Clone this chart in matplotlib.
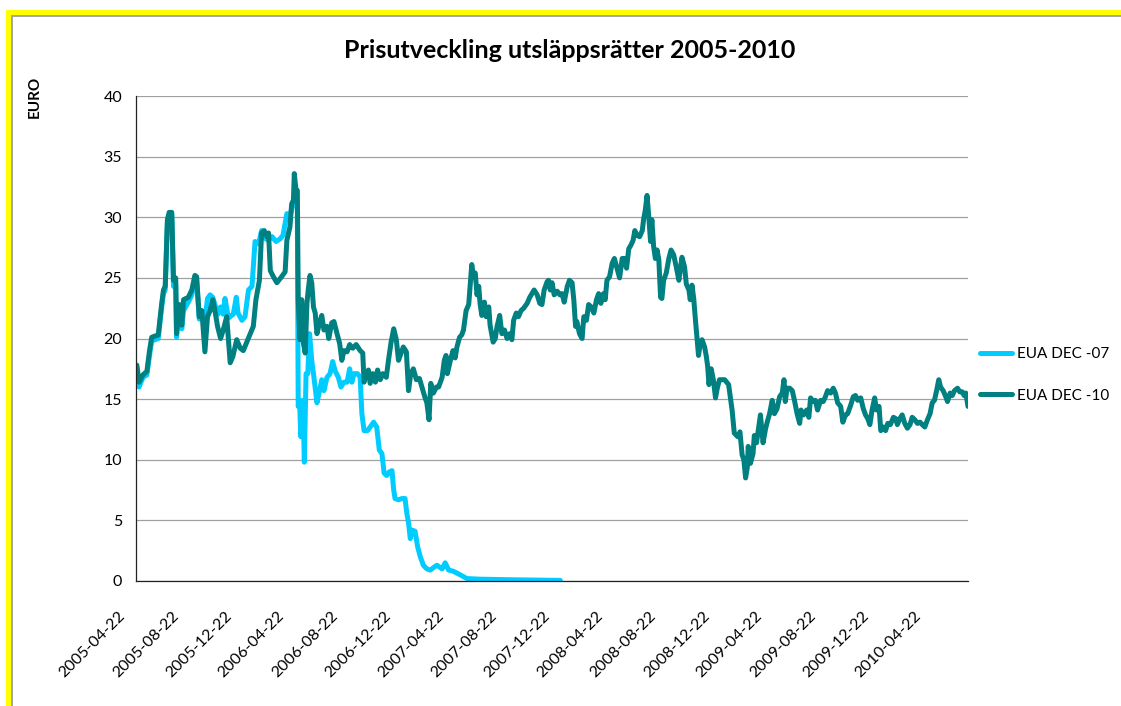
import numpy as np
import pandas as pd
import matplotlib
matplotlib.use("Agg")
import matplotlib.pyplot as plt
from matplotlib.patches import Rectangle
from matplotlib.transforms import ScaledTranslation

plt.rcParams['font.family'] = ['Lato', 'DejaVu Sans']

# days since 2005-04-22 and prices in EUR
START = "2005-04-22"

dec07_days = [2, 7, 16, 25, 31, 36, 51, 59, 63, 67, 72, 76, 82, 86, 91, 93, 99, 105, 109, 120,
              128, 135, 139, 145, 151, 158, 164, 170, 176, 181, 188, 194, 200, 204, 212, 216, 223,
              230, 234, 243, 250, 258, 266, 273, 281, 288, 294, 303, 312, 321, 330, 337, 346, 353,
              361, 367, 370, 372, 375, 378, 383, 386, 390, 394, 398, 403, 407, 415, 421, 426, 431,
              438, 445, 451, 457, 464, 470, 477, 484, 490, 495, 500, 508, 514, 518, 523, 531, 537,
              545, 552, 558, 564, 569, 575, 581, 587, 591, 594, 602, 610, 617, 621, 625, 629, 633,
              640, 646, 652, 659, 667, 675, 682, 690, 702, 709, 717, 728, 744, 759, 789, 865, 973]
dec07_price = [17.3, 16.0, 16.8, 17.0, 18.6, 19.8, 20.0, 22.6, 23.7, 24.0, 29.5, 30.2, 30.2, 24.3,
               24.7, 20.1, 22.5, 20.8, 22.3, 23.0, 23.6, 24.8, 24.8, 21.6, 22.0, 21.5, 23.3, 23.6,
               23.4, 22.8, 22.0, 22.6, 22.0, 23.3, 21.7, 21.8, 22.0, 23.4, 22.1, 21.5, 21.8, 24.0,
               24.3, 28.0, 27.8, 28.9, 28.3, 28.1, 28.4, 28.0, 28.2, 28.5, 30.3, 30.0, 31.4, 32.0,
               30.5, 14.4, 14.9, 11.9, 14.9, 9.8, 17.1, 17.1, 20.4, 18.2, 17.1, 14.7, 15.7, 16.6,
               15.7, 16.8, 17.1, 18.1, 17.3, 16.8, 16.0, 16.4, 16.4, 17.5, 16.4, 17.1, 17.1, 16.8,
               13.8, 12.4, 12.4, 12.7, 13.1, 12.7, 10.8, 10.5, 8.9, 8.7, 9.0, 9.1, 7.5, 6.8, 6.7,
               6.8, 6.8, 5.6, 4.8, 3.5, 4.2, 4.1, 2.8, 2.0, 1.3, 1.0, 0.9, 1.1, 1.3, 1.0, 1.5, 0.9,
               0.8, 0.5, 0.2, 0.15, 0.1, 0.05]

dec10_days = [2, 7, 16, 25, 31, 36, 51, 59, 63, 67, 72, 76, 82, 86, 91, 93, 99, 105, 109, 120,
              128, 135, 139, 145, 151, 158, 164, 170, 176, 181, 187, 194, 200, 208, 212, 216, 222,
              231, 239, 246, 254, 262, 269, 275, 283, 288, 294, 300, 304, 308, 315, 323, 334, 342,
              346, 353, 357, 361, 363, 367, 370, 372, 376, 380, 384, 388, 392, 395, 399, 403, 407,
              411, 415, 421, 426, 431, 438, 442, 449, 454, 461, 467, 472, 477, 484, 490, 497, 505,
              514, 520, 523, 528, 533, 537, 543, 549, 554, 560, 566, 574, 579, 585, 591, 597, 602,
              608, 613, 620, 625, 630, 636, 643, 650, 658, 663, 667, 672, 676, 682, 689, 694, 702,
              707, 711, 714, 721, 727, 732, 736, 742, 747, 751, 757, 763, 767, 770, 774, 778, 782,
              786, 789, 793, 799, 803, 809, 812, 819, 824, 828, 834, 839, 845, 851, 857, 862, 866,
              872, 877, 883, 889, 897, 903, 908, 913, 920, 926, 931, 936, 943, 946, 950, 954, 959,
              966, 972, 977, 982, 989, 994, 1000, 1004, 1008, 1011, 1017, 1023, 1027, 1033, 1038,
              1044, 1050, 1056, 1061, 1066, 1072, 1076, 1080, 1086, 1092, 1097, 1103, 1109, 1115,
              1120, 1125, 1130, 1135, 1140, 1144, 1149, 1155, 1161, 1164, 1168, 1172, 1176, 1180,
              1183, 1187, 1191, 1195, 1199, 1203, 1206, 1210, 1216, 1222, 1227, 1233, 1239, 1245,
              1248, 1252, 1258, 1262, 1268, 1271, 1275, 1279, 1283, 1287, 1290, 1294, 1298, 1304,
              1308, 1311, 1314, 1319, 1324, 1329, 1333, 1338, 1350, 1359, 1367, 1372, 1380, 1385,
              1390, 1394, 1398, 1402, 1404, 1409, 1415, 1418, 1423, 1428, 1432, 1438, 1444, 1449,
              1453, 1459, 1464, 1470, 1476, 1482, 1486, 1489, 1493, 1499, 1505, 1510, 1516, 1522,
              1525, 1531, 1538, 1543, 1547, 1553, 1558, 1563, 1570, 1576, 1581, 1586, 1593, 1599,
              1604, 1609, 1616, 1621, 1627, 1632, 1639, 1645, 1650, 1655, 1662, 1668, 1673, 1678,
              1683, 1688, 1694, 1698, 1704, 1708, 1714, 1719, 1724, 1730, 1737, 1742, 1746, 1752,
              1757, 1763, 1769, 1775, 1780, 1786, 1792, 1798, 1803, 1809, 1815, 1821, 1826, 1831,
              1836, 1841, 1845, 1851, 1857, 1861, 1867, 1872, 1877, 1884, 1889, 1895, 1899, 1903,
              1908]
dec10_price = [17.8, 16.4, 17.0, 17.3, 19.0, 20.1, 20.3, 22.9, 24.0, 24.3, 29.8, 30.4, 30.4, 24.8,
               25.0, 20.4, 22.8, 21.1, 23.2, 23.4, 24.0, 25.2, 25.1, 21.8, 22.3, 18.9, 21.8, 22.3,
               23.2, 22.3, 21.0, 20.0, 20.7, 21.8, 19.9, 18.0, 18.5, 19.9, 19.2, 19.0, 19.7, 20.4,
               21.0, 23.2, 24.8, 28.7, 28.9, 28.4, 28.7, 25.6, 25.1, 24.6, 25.1, 25.5, 28.1, 29.2,
               31.1, 31.4, 33.6, 32.2, 32.2, 23.2, 19.9, 23.2, 19.6, 18.8, 22.9, 24.0, 25.2, 24.6,
               22.6, 22.1, 20.4, 21.3, 21.9, 20.7, 21.0, 20.0, 21.3, 21.4, 20.4, 19.6, 18.2, 19.0,
               18.9, 19.5, 19.2, 19.5, 19.0, 18.8, 16.4, 17.1, 17.4, 16.3, 17.1, 16.4, 17.4, 16.6,
               17.1, 16.8, 18.2, 19.7, 20.8, 19.9, 18.2, 18.8, 19.3, 18.9, 15.7, 17.1, 17.5, 16.6,
               16.7, 15.7, 15.1, 14.7, 13.3, 16.3, 15.5, 16.0, 16.0, 16.8, 18.2, 18.6, 17.1, 18.2,
               19.0, 18.4, 19.3, 20.1, 20.3, 20.7, 22.3, 22.8, 24.7, 26.1, 25.1, 25.4, 23.6, 24.3,
               22.9, 21.9, 23.0, 21.8, 22.6, 21.1, 19.7, 20.0, 21.0, 21.9, 20.4, 20.7, 20.0, 20.4,
               19.9, 21.5, 22.1, 21.8, 22.3, 22.5, 22.9, 23.4, 23.7, 24.0, 23.6, 22.9, 22.8, 24.0,
               24.7, 24.8, 24.0, 24.6, 23.6, 23.9, 23.6, 23.7, 23.0, 24.3, 24.8, 24.6, 23.2, 21.0,
               21.4, 20.4, 20.0, 21.8, 21.5, 22.8, 22.6, 22.1, 23.2, 23.7, 22.9, 23.7, 23.2, 24.8,
               25.1, 26.2, 26.6, 25.8, 25.0, 26.6, 26.6, 25.8, 27.4, 27.7, 28.1, 28.9, 28.5, 28.4,
               28.9, 29.8, 30.6, 31.8, 30.0, 28.0, 29.8, 27.6, 26.6, 27.3, 26.5, 23.4, 23.3, 24.8,
               25.4, 26.6, 27.3, 26.9, 25.9, 24.8, 25.6, 26.7, 25.9, 24.5, 24.0, 23.2, 24.4, 23.3,
               21.5, 19.9, 18.6, 19.6, 19.9, 19.3, 18.5, 17.7, 16.2, 17.5, 16.6, 15.1, 15.9, 16.6,
               16.6, 16.2, 14.1, 12.2, 11.9, 12.3, 10.4, 10.0, 8.5, 9.4, 11.1, 9.7, 10.5, 12.0, 11.4,
               12.7, 13.7, 11.4, 12.6, 13.3, 13.8, 14.9, 13.8, 14.2, 15.2, 15.5, 16.6, 14.8, 15.9,
               15.9, 15.7, 14.9, 13.8, 13.0, 14.1, 13.7, 14.1, 13.5, 15.1, 14.8, 14.9, 14.1, 14.9,
               14.8, 15.2, 15.7, 15.5, 15.9, 15.5, 14.7, 14.4, 13.1, 13.7, 13.8, 14.5, 15.2, 15.3,
               14.9, 15.1, 14.2, 13.7, 13.4, 12.9, 14.1, 15.1, 14.1, 14.4, 12.4, 12.7, 12.4, 13.0,
               12.9, 13.5, 13.4, 12.9, 13.4, 13.7, 13.0, 12.6, 12.9, 13.5, 13.3, 13.0, 13.1, 12.9,
               12.7, 13.3, 13.8, 14.7, 14.9, 15.7, 16.6, 16.0, 15.7, 15.2, 14.8, 15.5, 15.3, 15.7,
               15.9, 15.6, 15.6, 15.3, 15.5, 14.4]

tick_labels = ["2005-04-22", "2005-08-22", "2005-12-22", "2006-04-22", "2006-08-22", "2006-12-22",
               "2007-04-22", "2007-08-22", "2007-12-22", "2008-04-22", "2008-08-22", "2008-12-22",
               "2009-04-22", "2009-08-22", "2009-12-22", "2010-04-22"]

start = pd.Timestamp(START)
dec07_dates = start + pd.to_timedelta(dec07_days, unit="D")
dec10_dates = start + pd.to_timedelta(dec10_days, unit="D")

fig = plt.figure(figsize=(11.21, 7.06), dpi=100)
ax = fig.add_axes([136 / 1121, 1 - 581 / 706, 832 / 1121, 485 / 706])

ax.plot(dec07_dates, dec07_price, color="#00CCFF", lw=3.6, label="EUA DEC -07",
        solid_joinstyle="round", solid_capstyle="round")
ax.plot(dec10_dates, dec10_price, color="#008080", lw=3.6, label="EUA DEC -10",
        solid_joinstyle="round", solid_capstyle="round")

ax.set_xlim(start, dec10_dates[-1])
ax.set_ylim(0, 40)
ax.set_yticks(np.arange(0, 41, 5))
ax.yaxis.grid(True, color="#A0A0A0", lw=0.9)
ax.set_axisbelow(True)
for s in ["top", "right"]:
    ax.spines[s].set_visible(False)
for s in ["left", "bottom"]:
    ax.spines[s].set_color("#222222")
    ax.spines[s].set_linewidth(0.9)

ax.set_xticks(pd.to_datetime(tick_labels))
ax.set_xticklabels(tick_labels, rotation=45, ha="right", va="top")
ax.tick_params(axis="both", length=0, labelsize=11.5)
ax.tick_params(axis="y", pad=10)
ax.tick_params(axis="x", pad=20)
shift = ScaledTranslation(-8 / 100, 0, fig.dpi_scale_trans)
for lab in ax.get_xticklabels():
    lab.set_transform(lab.get_transform() + shift)

fig.text(570 / 1121, 1 - 50 / 706, "Prisutveckling utsläppsrätter 2005-2010",
         ha="center", va="center", fontsize=18, fontweight="bold")
fig.text(35 / 1121, 1 - 97 / 706, "EURO", rotation=90, ha="center", va="center",
         fontsize=11, fontweight="bold")

ax.legend(loc="center left", bbox_to_anchor=(980 / 1121, 1 - 375 / 706),
          bbox_transform=fig.transFigure, frameon=False, fontsize=11,
          handlelength=2.1, handletextpad=0.3, labelspacing=1.8,
          borderpad=0, borderaxespad=0)

# yellow frame of the embedded chart (cut off at right and bottom)
fig.add_artist(Rectangle((6 / 1121, 0), 5 / 1121, 1 - 10 / 706, transform=fig.transFigure,
                         color="#FFFF00", lw=0))
fig.add_artist(Rectangle((6 / 1121, 1 - 15 / 706), 1, 5 / 706, transform=fig.transFigure,
                         color="#FFFF00", lw=0))
fig.add_artist(Rectangle((11 / 1121, 0), 1.5 / 1121, 1 - 15 / 706, transform=fig.transFigure,
                         color="#A6A6A6", lw=0))
fig.add_artist(Rectangle((11 / 1121, 1 - 16.5 / 706), 1, 1.5 / 706, transform=fig.transFigure,
                         color="#A6A6A6", lw=0))

fig.savefig("out.png", dpi=100)
